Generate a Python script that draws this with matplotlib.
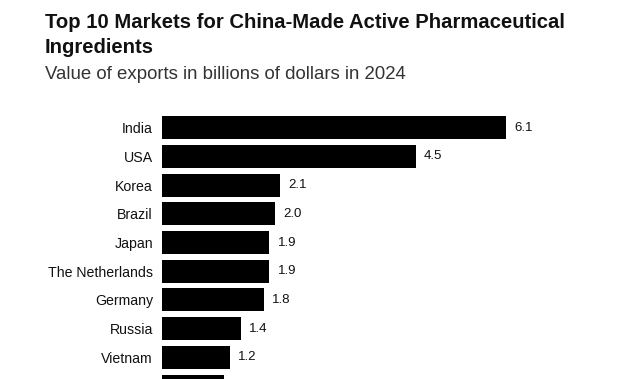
import matplotlib
matplotlib.use("Agg")
import matplotlib.pyplot as plt

categories = ["India", "USA", "Korea", "Brazil", "Japan", "The Netherlands",
              "Germany", "Russia", "Vietnam", "Indonesia"]
values = [6.1, 4.5, 2.1, 2.0, 1.9, 1.9, 1.8, 1.4, 1.2, 1.1]
value_labels = ["6.1", "4.5", "2.1", "2.0", "1.9", "1.9", "1.8", "1.4", "1.2", "1.1"]

title_lines = ["Top 10 Markets for China-Made Active Pharmaceutical", "Ingredients"]
subtitle = "Value of exports in billions of dollars in 2024"

plt.rcParams['font.family'] = ['Liberation Sans', 'DejaVu Sans']

W, H = 640, 379
fig = plt.figure(figsize=(W / 100, H / 100), dpi=100)
fig.patch.set_facecolor("white")

left_px, right_px = 162, 620
top_px, pitch = 113.4, 28.7
n = len(categories)
bottom_px = top_px + n * pitch
ax = fig.add_axes([left_px / W, (H - bottom_px) / H, (right_px - left_px) / W, n * pitch / H])
ax.set_facecolor("white")

y = list(range(n))
bars = ax.barh(y, values, height=0.8, color="black")
ax.set_ylim(n - 0.5, -0.5)
ax.set_xlim(0, (right_px - left_px) / 56.4)
ax.set_yticks(y)
ax.set_yticklabels(categories, fontsize=10.2, color="#111111")
ax.tick_params(axis="y", length=0, pad=6.5)
ax.set_xticks([])
for s in ax.spines.values():
    s.set_visible(False)
ax.bar_label(bars, labels=value_labels, padding=6, fontsize=9.5, color="#111111")

for txt, base in zip(title_lines, [28.5, 53]):
    fig.text(45 / W, 1 - base / H, txt, fontsize=14.6, fontweight="bold", color="#111111",
             va="baseline", ha="left")
fig.text(45 / W, 1 - 79 / H, subtitle, fontsize=13.4, color="#333333", va="baseline", ha="left")

fig.savefig("out.png", dpi=100, facecolor="white")
